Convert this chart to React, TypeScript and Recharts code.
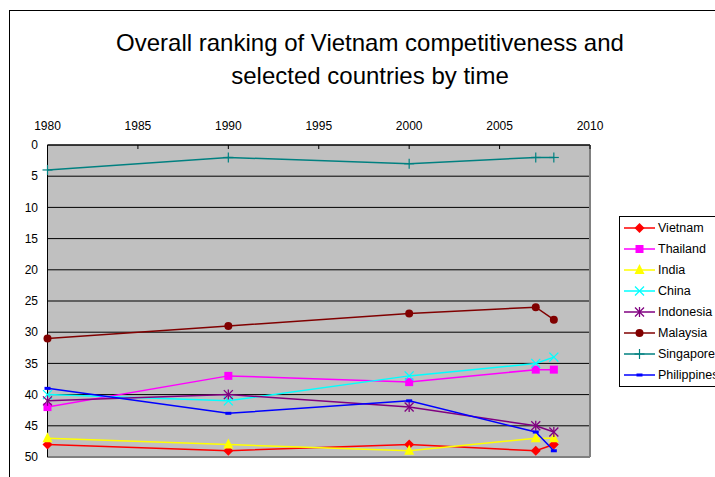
import React from "react";
import { LineChart, Line, XAxis, YAxis, CartesianGrid, ReferenceLine, Legend } from "recharts";

const years = [1980, 1990, 2000, 2007, 2008];
const vietnam = [48, 49, 48, 49, 48];
const thailand = [42, 37, 38, 36, 36];
const india = [47, 48, 49, 47, 47];
const china = [40, 41, 37, 35, 34];
const indonesia = [41, 40, 42, 45, 46];
const malaysia = [31, 29, 27, 26, 28];
const singapore = [4, 2, 3, 2, 2];
const philippines = [39, 43, 41, 46, 49];

const xTicks = [1980, 1985, 1990, 1995, 2000, 2005, 2010];
const yTicks = [0, 5, 10, 15, 20, 25, 30, 35, 40, 45, 50];

const titleLines = ["Overall ranking of Vietnam competitiveness and", "selected countries by time"];

type Shape = "diamond" | "square" | "triangle" | "x" | "asterisk" | "circle" | "plus" | "dash";

const seriesDefs: { name: string; key: string; values: number[]; color: string; shape: Shape }[] = [
  { name: "Vietnam", key: "vietnam", values: vietnam, color: "#FF0000", shape: "diamond" },
  { name: "Thailand", key: "thailand", values: thailand, color: "#FF00FF", shape: "square" },
  { name: "India", key: "india", values: india, color: "#FFFF00", shape: "triangle" },
  { name: "China", key: "china", values: china, color: "#00FFFF", shape: "x" },
  { name: "Indonesia", key: "indonesia", values: indonesia, color: "#800080", shape: "asterisk" },
  { name: "Malaysia", key: "malaysia", values: malaysia, color: "#800000", shape: "circle" },
  { name: "Singapore", key: "singapore", values: singapore, color: "#008080", shape: "plus" },
  { name: "Philippines", key: "philippines", values: philippines, color: "#0000FF", shape: "dash" },
];

const data = years.map((year, i) => {
  const row: Record<string, number> = { year };
  seriesDefs.forEach((s) => {
    row[s.key] = s.values[i];
  });
  return row;
});

const FONT = "'Liberation Sans', Arial, sans-serif";

function Marker({ cx, cy, shape, color }: { cx: number; cy: number; shape: Shape; color: string }) {
  switch (shape) {
    case "diamond":
      return <polygon points={`${cx},${cy - 5} ${cx + 5},${cy} ${cx},${cy + 5} ${cx - 5},${cy}`} fill={color} />;
    case "square":
      return <rect x={cx - 4} y={cy - 4} width={8} height={8} fill={color} />;
    case "triangle":
      return <polygon points={`${cx},${cy - 6} ${cx + 5},${cy + 4} ${cx - 5},${cy + 4}`} fill={color} />;
    case "x":
      return (
        <g stroke={color} strokeWidth={1.3}>
          <line x1={cx - 4.5} y1={cy - 4.5} x2={cx + 4.5} y2={cy + 4.5} />
          <line x1={cx - 4.5} y1={cy + 4.5} x2={cx + 4.5} y2={cy - 4.5} />
        </g>
      );
    case "asterisk":
      return (
        <g stroke={color} strokeWidth={1.3}>
          <line x1={cx - 4.5} y1={cy - 4.5} x2={cx + 4.5} y2={cy + 4.5} />
          <line x1={cx - 4.5} y1={cy + 4.5} x2={cx + 4.5} y2={cy - 4.5} />
          <line x1={cx} y1={cy - 5} x2={cx} y2={cy + 5} />
        </g>
      );
    case "circle":
      return <circle cx={cx} cy={cy} r={4} fill={color} />;
    case "plus":
      return (
        <g stroke={color} strokeWidth={1.2}>
          <line x1={cx - 5} y1={cy} x2={cx + 5} y2={cy} />
          <line x1={cx} y1={cy - 5} x2={cx} y2={cy + 5} />
        </g>
      );
    case "dash":
    default:
      return <rect x={cx - 3} y={cy - 1.5} width={6} height={3} fill={color} />;
  }
}

const makeDot = (shape: Shape, color: string) => (props: any) => {
  const { cx, cy, index } = props;
  if (cx == null || cy == null) return <g key={`d-${index}`} />;
  return (
    <g key={`d-${index}`}>
      <Marker cx={cx} cy={cy} shape={shape} color={color} />
    </g>
  );
};

const XTick = (props: any) => {
  const { x, y, payload } = props;
  return (
    <g>
      <text x={x} y={y} textAnchor="middle" fontSize={12} fontFamily={FONT} fill="#000">
        {payload.value}
      </text>
      <line x1={x} x2={x} y1={y + 15.5} y2={y + 19.5} stroke="#000" />
    </g>
  );
};

const LegendContent = () => (
  <div
    style={{
      border: "1px solid #000",
      background: "#fff",
      width: 110,
      fontFamily: FONT,
      fontSize: 12.5,
      color: "#000",
    }}
  >
    {seriesDefs.map((s) => (
      <div key={s.key} style={{ height: 21.1, display: "flex", alignItems: "center", whiteSpace: "nowrap" }}>
        <svg width={38} height={14} style={{ flex: "none" }}>
          <line x1={4} x2={35} y1={7} y2={7} stroke={s.color} strokeWidth={1.5} />
          <Marker cx={19.5} cy={7} shape={s.shape} color={s.color} />
        </svg>
        <span>{s.name}</span>
      </div>
    ))}
  </div>
);

export default function App() {
  return (
    <div
      style={{
        position: "absolute",
        left: 0,
        top: 0,
        width: 715,
        height: 477,
        overflow: "hidden",
        background: "#fff",
      }}
    >
      <div
        style={{
          position: "absolute",
          left: 9,
          top: 10,
          width: 800,
          height: 600,
          border: "1px solid #000",
        }}
      />
      <div
        style={{
          position: "absolute",
          left: 70,
          width: 600,
          top: 26,
          textAlign: "center",
          fontFamily: FONT,
          fontSize: 24,
          lineHeight: "33px",
          color: "#000",
          whiteSpace: "nowrap",
        }}
      >
        {titleLines.map((t) => (
          <div key={t}>{t}</div>
        ))}
      </div>
      <div style={{ position: "absolute", left: 0, top: 0 }}>
        <LineChart width={715} height={477} data={data} margin={{ top: 115, right: 125, bottom: 20, left: 7.5 }}>
          <CartesianGrid vertical={false} stroke="#000" fill="#c0c0c0" fillOpacity={1} />
          <XAxis
            dataKey="year"
            type="number"
            orientation="top"
            domain={[1980, 2010]}
            ticks={xTicks}
            height={30}
            axisLine={{ stroke: "#000" }}
            tickLine={false}
            tickSize={0}
            tickMargin={15.5}
            tick={<XTick />}
            interval={0}
          />
          <YAxis
            type="number"
            reversed
            domain={[0, 50]}
            ticks={yTicks}
            width={40}
            axisLine={{ stroke: "#000" }}
            tickLine={false}
            tickSize={0}
            tickMargin={9.5}
            tick={{ fontSize: 12, fontFamily: FONT, fill: "#000" }}
            interval={0}
          />
          <ReferenceLine y={50} stroke="#808080" strokeWidth={2} />
          <ReferenceLine x={2010} stroke="#808080" strokeWidth={2} />
          {seriesDefs.map((s) => (
            <Line
              key={s.key}
              dataKey={s.key}
              name={s.name}
              stroke={s.color}
              strokeWidth={1.5}
              dot={makeDot(s.shape, s.color)}
              activeDot={false}
              isAnimationActive={false}
              type="linear"
            />
          ))}
          <Legend
            layout="vertical"
            align="center"
            verticalAlign="middle"
            content={<LegendContent />}
            wrapperStyle={{ left: 619, top: 216, width: 110, margin: 0 }}
          />
        </LineChart>
      </div>
    </div>
  );
}
